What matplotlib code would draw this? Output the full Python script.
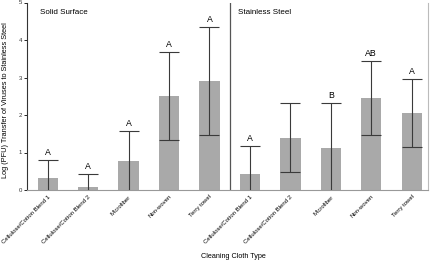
import numpy as np
import matplotlib
matplotlib.use("Agg")
import matplotlib.pyplot as plt

plt.rcParams["font.family"] = ["Liberation Sans", "DejaVu Sans"]

# cloth types (same order for both surfaces)
cloths = ["Cellulose/Cotton Blend 1", "Cellulose/Cotton Blend 2", "Microfiber",
          "Non-woven", "Terry towel"]

# mean log PFU transfer and error (+/-)
solid_mean = [0.31, 0.08, 0.77, 2.51, 2.91]
solid_err = [0.49, 0.34, 0.81, 1.17, 1.44]
solid_letters = ["A", "A", "A", "A", "A"]

steel_mean = [0.42, 1.39, 1.12, 2.46, 2.06]
steel_err = [0.75, 0.92, 1.21, 0.99, 0.90]
steel_letters = ["A", "", "B", "AB", "A"]

panel_titles = ["Solid Surface", "Stainless Steel"]

BAR_COLOR = "#a9a9a9"
ERR_COLOR = "#3a3a3a"

means = solid_mean + steel_mean
errs = solid_err + steel_err
letters = solid_letters + steel_letters
labels = cloths + cloths
x = np.arange(len(means))

fig = plt.figure(figsize=(4.33, 2.62), dpi=100)
ax = fig.add_axes([27 / 433, 1 - 190 / 262, (428 - 27) / 433, (190 - 2.5) / 262])

ax.bar(x, means, width=0.5, color=BAR_COLOR, zorder=2)
ax.errorbar(x, means, yerr=errs, fmt="none", ecolor=ERR_COLOR, elinewidth=0.8,
            capsize=7.5, capthick=0.8, zorder=3, clip_on=True)

for xi, m, e, lab in zip(x, means, errs, letters):
    if lab:
        ax.text(xi, m + e + 0.08, lab, ha="center", va="bottom", fontsize=6.3)

# divider between surfaces
ax.axvline(4.5, color="#555555", lw=0.9)

ax.text(40 / 433, 1 - 12.5 / 262, panel_titles[0], transform=fig.transFigure,
        fontsize=5.8, va="center", ha="left")
ax.text(238 / 433, 1 - 13 / 262, panel_titles[1], transform=fig.transFigure,
        fontsize=5.8, va="center", ha="left")

ax.set_xlim(-0.51, 9.40)
ax.set_ylim(0, 5)
ax.set_yticks([0, 1, 2, 3, 4, 5])
ax.tick_params(axis="y", labelsize=4.3, length=2, width=0.6, pad=1.5,
               labelcolor="#333333")
ax.set_xticks(x)
ax.set_xticklabels(labels, rotation=45, ha="right", rotation_mode="anchor",
                   fontsize=4.3)
ax.tick_params(axis="x", length=0, pad=3)

ax.spines["top"].set_visible(False)
ax.spines["left"].set_color("#333333")
ax.spines["left"].set_linewidth(0.8)
ax.spines["bottom"].set_color("#999999")
ax.spines["right"].set_color("#bbbbbb")
ax.spines["right"].set_linewidth(0.8)

fig.text(6 / 433, 1 - 100 / 262, "Log (PFU) Transfer of Viruses to Stainless Steel",
         fontsize=5.3, rotation=90, ha="center", va="center")
fig.text(233 / 433, 1 - 256.5 / 262, "Cleaning Cloth Type", fontsize=5.2,
         ha="center", va="center")

plt.savefig("out.png", dpi=100)
plt.close()
